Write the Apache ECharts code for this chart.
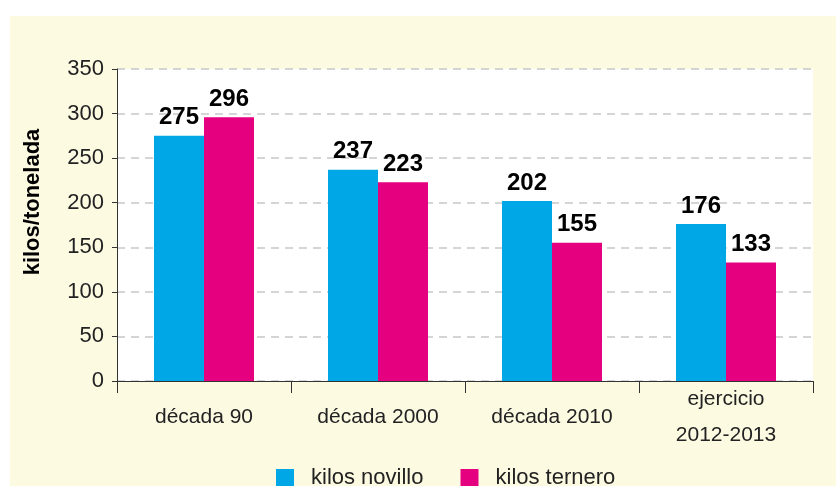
<!DOCTYPE html>
<html>
<head>
<meta charset="utf-8">
<script src="https://cdn.jsdelivr.net/npm/echarts@6/dist/echarts.min.js"></script>
<style>
  html, body { margin: 0; padding: 0; background: #fff; }
  #chart { width: 836px; height: 486px; }
</style>
</head>
<body>
<div id="chart"></div>
<script>
const categories = ['década 90', 'década 2000', 'década 2010', 'ejercicio\n2012-2013']
const novillo = [275, 237, 202, 176]
const ternero = [296, 223, 155, 133]
const yTicks = { min: 0, max: 350, interval: 50 }

const font = '"Liberation Sans", Arial, sans-serif'
const blue = '#00A7E7'
const pink = '#E4007F'

const chart = echarts.init(document.getElementById('chart'), null, { renderer: 'canvas' })

const barLabel = {
  show: true,
  position: 'top',
  distance: 6,
  color: '#000',
  fontFamily: font,
  fontWeight: 'bold',
  fontSize: 24
}

chart.setOption({
  animation: false,
  textStyle: { fontFamily: font },
  graphic: [
    {
      type: 'rect',
      z: -10,
      shape: { x: 10, y: 16, width: 826, height: 470 },
      style: { fill: '#FDFAE2' }
    },
    {
      type: 'text',
      x: 33,
      y: 202,
      rotation: Math.PI / 2,
      style: {
        text: 'kilos/tonelada',
        fill: '#000',
        font: 'bold 22px ' + font,
        textAlign: 'center',
        textVerticalAlign: 'middle'
      }
    }
  ],
  grid: {
    left: 117,
    right: 23,
    top: 69,
    bottom: 105,
    show: true,
    backgroundColor: '#fff',
    borderWidth: 0
  },
  legend: {
    left: 271,
    top: 462,
    itemWidth: 18,
    itemHeight: 18,
    itemGap: 37,
    icon: 'rect',
    textStyle: {
      fontFamily: font,
      fontSize: 22,
      color: '#222',
      padding: [0, 0, 0, 12]
    },
    data: ['kilos novillo', 'kilos ternero']
  },
  xAxis: {
    type: 'category',
    data: categories,
    axisLine: { lineStyle: { color: '#333', width: 1 } },
    axisTick: { show: true, length: 12, lineStyle: { color: '#333' } },
    axisLabel: {
      color: '#222',
      fontSize: 21,
      lineHeight: 36,
      verticalAlign: 'middle',
      margin: 36
    }
  },
  yAxis: {
    type: 'value',
    min: yTicks.min,
    max: yTicks.max,
    interval: yTicks.interval,
    axisLine: { show: true, lineStyle: { color: '#333', width: 1 } },
    axisTick: { show: true, length: 5, lineStyle: { color: '#333' } },
    axisLabel: { color: '#222', fontSize: 22, margin: 13 },
    splitLine: { lineStyle: { color: '#C8C8C8', width: 1.5, type: [8, 6] } }
  },
  series: [
    {
      name: 'kilos novillo',
      type: 'bar',
      data: novillo,
      barWidth: 50,
      barGap: '0%',
      itemStyle: { color: blue },
      label: barLabel
    },
    {
      name: 'kilos ternero',
      type: 'bar',
      data: ternero,
      barWidth: 50,
      barGap: '0%',
      itemStyle: { color: pink },
      label: barLabel
    }
  ]
})
</script>
</body>
</html>
